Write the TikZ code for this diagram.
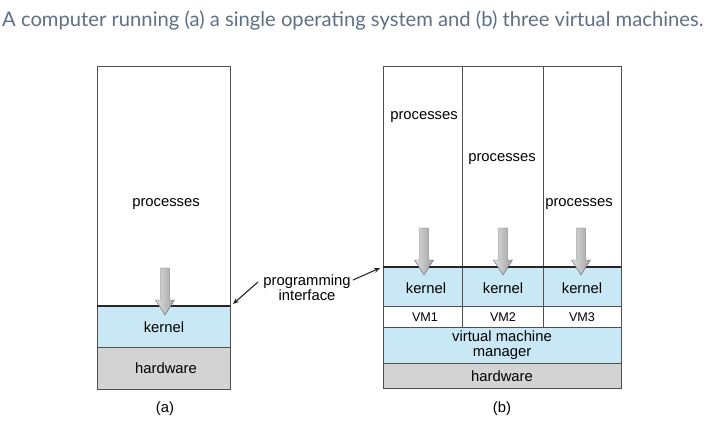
\documentclass[tikz,border=0pt]{standalone}
\usepackage{fontspec}
\setmainfont{Liberation Sans}
\newfontfamily\titlefont{Lato}
\usetikzlibrary{arrows.meta}
\definecolor{kblue}{RGB}{201,232,245}
\definecolor{hwgray}{RGB}{211,211,211}
\definecolor{edgegray}{RGB}{80,80,80}
\definecolor{titlecol}{RGB}{93,112,133}
\tikzset{
  x=1pt, y=-1pt,
  layer/.style={draw=edgegray, line width=1pt},
  lbl/.style={font=\fontsize{14.8}{16}\selectfont, inner sep=0pt, text=black},
  smalllbl/.style={font=\fontsize{12.6}{15}\selectfont, inner sep=0pt, text=black},
  iface/.style={line width=1.8pt, black!85},
  pointer/.style={-{Stealth[length=6pt,width=5pt]}, line width=1.1pt, black!85},
  bigarrowstyle/.style={left color=gray!25, right color=gray!75, draw=gray!80!black, line width=0.4pt},
}
\newcommand{\bigdownarrow}[4]{%
  \path[bigarrowstyle] (#1-4.5,#2) -- (#1+4.5,#2) -- (#1+4.5,#3) -- (#1+9.5,#3) -- (#1,#4) -- (#1-9.5,#3) -- (#1-4.5,#3) -- cycle;}
\begin{document}
\begin{tikzpicture}
\useasboundingbox (0,0) rectangle (709,439);
% title
\node[anchor=base west, inner sep=0pt, text=titlecol, font=\titlefont\fontsize{20.2}{22}\selectfont] (title) at (2,27) {A computer running (a) a single operating system and (b) three virtual machines.};

% ---------- (a) ----------
\path[layer, fill=white] (97,66) rectangle (230,306);
\path[layer, fill=kblue] (97,306) rectangle (230,347);
\path[layer, fill=hwgray] (97,347) rectangle (230,389);
\draw[iface] (97,306) -- (230,306);
\node[lbl] (procA) at (166,204) {processes};
\node[lbl] (kernA) at (164,327) {kernel};
\node[lbl] (hwA) at (166,368) {hardware};
\bigdownarrow{165}{268}{300}{315}
\node[lbl, align=center] (pi) at (307,288) {programming\\[-1pt]interface};
\coordinate (ifA) at (233,304);
\coordinate (ifB) at (380,268);
\draw[pointer] (258,282) -- (ifA);
\draw[pointer] (353,280) -- (ifB);
\node[lbl] (capA) at (165,409) {(a)};

% ---------- (b) ----------
\path[layer, fill=white] (383,66) rectangle (462,267);
\path[layer, fill=white] (462,66) rectangle (543,267);
\path[layer, fill=white] (543,66) rectangle (621,267);
\path[layer, fill=kblue] (383,267) rectangle (462,306);
\path[layer, fill=kblue] (462,267) rectangle (543,306);
\path[layer, fill=kblue] (543,267) rectangle (621,306);
\path[layer, fill=white] (383,306) rectangle (462,327);
\path[layer, fill=white] (462,306) rectangle (543,327);
\path[layer, fill=white] (543,306) rectangle (621,327);
\path[layer, fill=kblue] (383,327) rectangle (621,363);
\path[layer, fill=hwgray] (383,363) rectangle (621,388);
\draw[iface] (383,267) -- (621,267);

\node[lbl] (p1) at (424,117) {processes};
\node[lbl] (p2) at (502,159) {processes};
\node[lbl] (p3) at (579,204) {processes};
\node[lbl] (k1) at (426,288) {kernel};
\node[lbl] (k2) at (503,288) {kernel};
\node[lbl] (k3) at (582,288) {kernel};
\node[smalllbl] (vm1) at (425,317) {VM1};
\node[smalllbl] (vm2) at (503,317) {VM2};
\node[smalllbl] (vm3) at (582,317) {VM3};
\node[lbl, align=center] (vmm) at (502,345) {virtual machine\\[-1pt]manager};
\node[lbl] (hwB) at (502,376) {hardware};
\bigdownarrow{424}{228}{260}{275}
\bigdownarrow{503}{228}{260}{275}
\bigdownarrow{581}{228}{260}{275}
\node[lbl] (capB) at (502,409) {(b)};
\end{tikzpicture}
\end{document}
